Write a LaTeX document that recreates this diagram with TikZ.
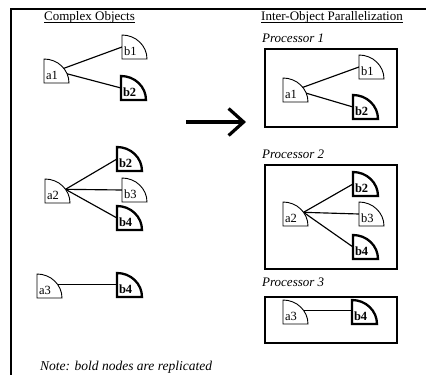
\documentclass[tikz,border=0pt]{standalone}
\usepackage{fontspec}
\setmainfont{Liberation Serif}
\usetikzlibrary{arrows.meta,backgrounds}

% A quarter disc: straight left and bottom sides, elliptic arc from the
% top-left corner to the bottom-right corner.
\makeatletter
\def\qd@draw#1#2#3#4#5#6{%
  \pgfpathmoveto{\pgfqpoint{#1}{#2}}%
  \pgfpathlineto{\pgfqpoint{#1}{#4}}%
  \pgfpathcurveto{\pgfqpoint{#5}{#4}}{\pgfqpoint{#3}{#6}}{\pgfqpoint{#3}{#2}}%
  \pgfpathclose}
\pgfdeclareshape{quarterdisc}{%
  \inheritsavedanchors[from=rectangle]
  \inheritanchorborder[from=rectangle]
  \inheritanchor[from=rectangle]{center}
  \inheritanchor[from=rectangle]{north}
  \inheritanchor[from=rectangle]{south}
  \inheritanchor[from=rectangle]{west}
  \inheritanchor[from=rectangle]{east}
  \inheritanchor[from=rectangle]{north west}
  \inheritanchor[from=rectangle]{north east}
  \inheritanchor[from=rectangle]{south west}
  \inheritanchor[from=rectangle]{south east}
  % point on the arc where fanned connectors meet
  \anchor{hub}{%
    \southwest \pgf@xa=\pgf@x \pgf@ya=\pgf@y
    \northeast \pgf@xb=\pgf@x \pgf@yb=\pgf@y
    \pgf@x=\pgf@xb \advance\pgf@x by -\pgf@xa
    \pgf@x=0.82\pgf@x \advance\pgf@x by \pgf@xa
    \pgf@y=\pgf@yb \advance\pgf@y by -\pgf@ya
    \pgf@y=0.57\pgf@y \advance\pgf@y by \pgf@ya}
  \backgroundpath{%
    \southwest \pgf@xa=\pgf@x \pgf@ya=\pgf@y
    \northeast \pgf@xb=\pgf@x \pgf@yb=\pgf@y
    \pgf@xc=\pgf@xb \advance\pgf@xc by -\pgf@xa
    \pgf@xc=0.5523\pgf@xc \advance\pgf@xc by \pgf@xa
    \pgf@yc=\pgf@yb \advance\pgf@yc by -\pgf@ya
    \pgf@yc=0.5523\pgf@yc \advance\pgf@yc by \pgf@ya
    \edef\qd@pts{{\the\pgf@xa}{\the\pgf@ya}{\the\pgf@xb}{\the\pgf@yb}{\the\pgf@xc}{\the\pgf@yc}}%
    \expandafter\qd@draw\qd@pts}
}
\makeatother

\tikzset{
  obj/.style={shape=quarterdisc, draw, fill=white, line width=0.9pt,
    minimum width=25pt, minimum height=24pt, inner sep=0pt, outer sep=0pt,
    text width=21pt, align=left, text height=17pt, text depth=0pt,
    font=\fontsize{12.5}{13}\selectfont, anchor=north west},
  rep/.style={obj, line width=2.3pt, font=\fontsize{12.5}{13}\selectfont\bfseries},
  conn/.style={line width=1.15pt},
  heading/.style={inner sep=0pt, anchor=base west, font=\fontsize{13}{14}\selectfont},
  proc/.style={inner sep=0pt, anchor=base west, font=\fontsize{13}{14}\selectfont\itshape},
  note/.style={inner sep=0pt, anchor=base west, font=\fontsize{13.5}{14}\selectfont\itshape},
  uline/.style={line width=0.8pt},
  procbox/.style={line width=1.2pt},
  frame/.style={line width=1.3pt}
}

\begin{document}
\begin{tikzpicture}[x=1pt,y=-1pt]
\useasboundingbox (0,0) rectangle (426,375);

% page frame (top and left rules)
\draw[frame] (426,9) -- (11,9) -- (11,375);

% headings
\node[heading] (hleft) at (44,20) {Complex Objects};
\node[heading] (hright) at (261,20) {Inter-Object Parallelization};
\draw[uline] ([yshift=-2.5pt]hleft.base west) -- ([yshift=-2.5pt]hleft.base east);
\draw[uline] ([yshift=-2.5pt]hright.base west) -- ([yshift=-2.5pt]hright.base east);

% ---- complex objects ----
\node[obj] (la1) at (44,59) {a1};
\node[obj] (lb1) at (122,35) {b1};
\node[rep] (lb2) at (121,76) {b2};

\node[obj] (la2) at (45,179) {a2};
\node[rep] (lb2x) at (117,147) {b2};
\node[obj] (lb3) at (122,178) {b3};
\node[rep] (lb4) at (117,206) {b4};

\node[obj] (la3) at (37,274) {a3};
\node[rep] (lb4x) at (117,273) {b4};

% ---- transformation arrow ----
\coordinate (arrtail) at (186,122);
\coordinate (arrtip) at (246,122);
\draw[line width=3.2pt, -{Straight Barb[length=15pt, width=27pt, line width=3.2pt]}]
  (arrtail) -- (arrtip);

% ---- processors ----
\node[proc] (p1) at (262,42) {Processor 1};
\draw[procbox] (265,49) rectangle (397,127);
\node[obj] (ra1) at (283,78) {a1};
\node[obj] (rb1) at (359,55) {b1};
\node[rep] (rb2) at (353,95) {b2};

\node[proc] (p2) at (262,158) {Processor 2};
\draw[procbox] (265,165) rectangle (397,269);
\node[rep] (rb2x) at (353,172) {b2};
\node[obj] (ra2) at (283,202) {a2};
\node[obj] (rb3) at (359,202) {b3};
\node[rep] (rb4) at (353,235) {b4};

\node[proc] (p3) at (262,286) {Processor 3};
\draw[procbox] (265,297) rectangle (397,343);
\node[obj] (ra3) at (283,300) {a3};
\node[rep] (rb4x) at (352,300) {b4};

% ---- references between objects ----
\begin{scope}[on background layer]
  \draw[conn] (la1.center) -- (lb1.west);
  \draw[conn] (la1.center) -- (lb2.west);
  \draw[conn] (la2.hub) -- (lb2x.west);
  \draw[conn] (la2.hub) -- (lb3.west);
  \draw[conn] (la2.hub) -- (lb4.west);
  \draw[conn] (la3.hub) -- (la3.hub -| lb4x.west);

  \draw[conn] (ra1.center) -- (rb1.west);
  \draw[conn] (ra1.center) -- (rb2.west);
  \draw[conn] (ra2.hub) -- (rb2x.west);
  \draw[conn] (ra2.hub) -- (rb3.west);
  \draw[conn] (ra2.hub) -- (rb4.west);
  \draw[conn] (ra3.hub) -- (ra3.hub -| rb4x.west);
\end{scope}

% footnote
\node[note] (note) at (40,370) {Note: bold nodes are replicated};
\end{tikzpicture}
\end{document}
